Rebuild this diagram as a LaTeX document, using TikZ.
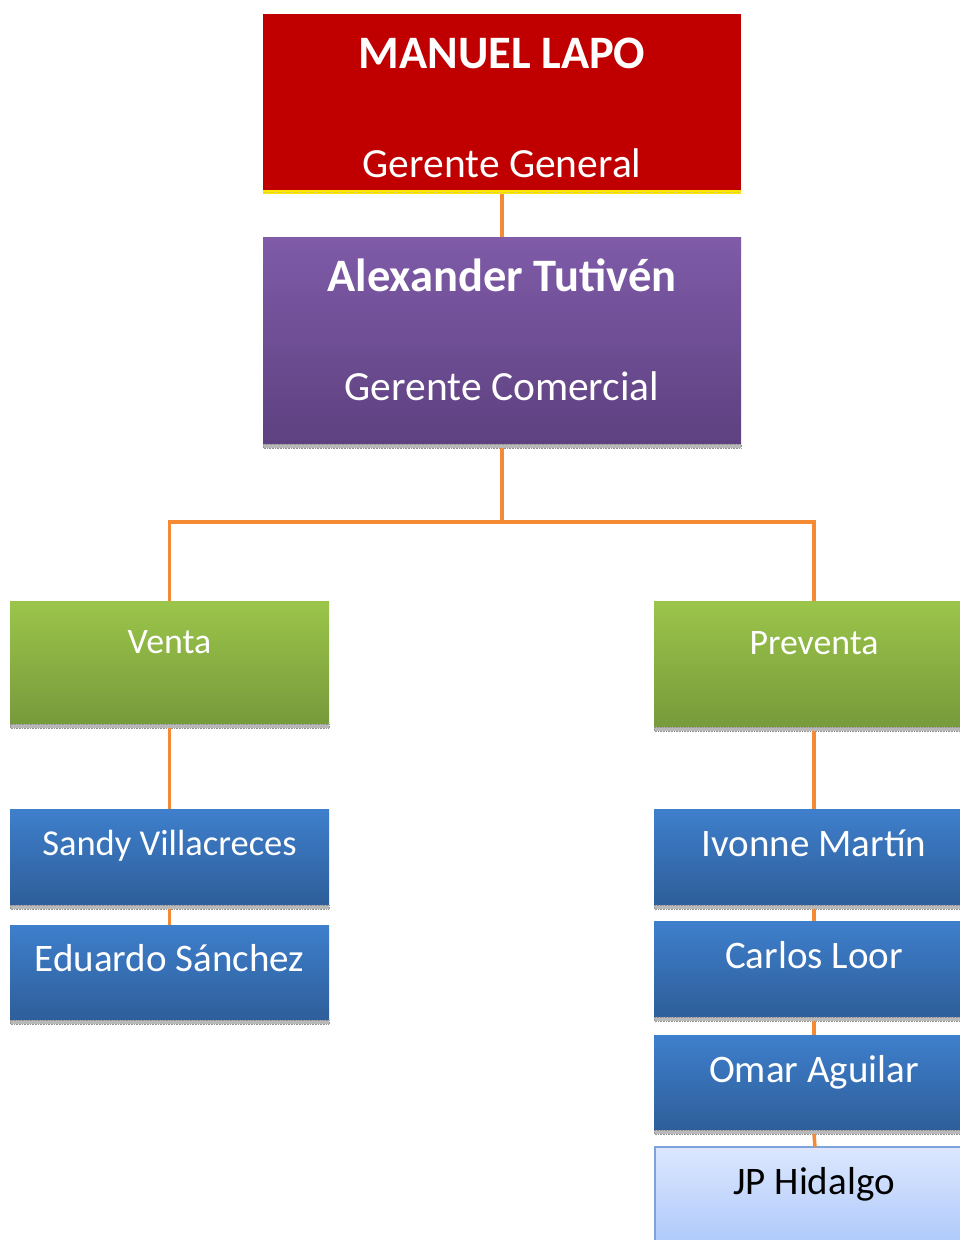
\documentclass[tikz,border=0pt]{standalone}
\usepackage{fontspec}
\setmainfont{Carlito}
\definecolor{gred}{HTML}{C00000}
\definecolor{purtop}{HTML}{7F5BA8}
\definecolor{purbot}{HTML}{5D4180}
\definecolor{grntop}{HTML}{9BC54A}
\definecolor{grnbot}{HTML}{779A3B}
\definecolor{blutop}{HTML}{3E7FCC}
\definecolor{blubot}{HTML}{2E5E9A}
\definecolor{lbtop}{HTML}{DCE7FE}
\definecolor{lbbot}{HTML}{A8C5FA}
\definecolor{lbline}{HTML}{7DA3DD}
\definecolor{conncol}{HTML}{F58A35}
\begin{document}
\begin{tikzpicture}[x=1pt,y=-1pt,
  box/.style={rectangle,inner sep=0pt,outer sep=0pt,anchor=north west,draw=none},
  redbox/.style={box,fill=gred},
  purbox/.style={box,top color=purtop,bottom color=purbot},
  grnbox/.style={box,top color=grntop,bottom color=grnbot},
  blubox/.style={box,top color=blutop,bottom color=blubot},
  lbbox/.style={box,top color=lbtop,bottom color=lbbot,draw=lbline,line width=1.2pt},
  shadowstrip/.style={fill=gray!55,draw=gray!85,densely dotted,line width=0.6pt},
  conn/.style={draw=conncol,line width=3.5pt},
  ttl/.style={anchor=base,text=white,font=\fontsize{46.5}{52}\selectfont\bfseries},
  sub/.style={anchor=base,text=white,font=\fontsize{41.5}{48}\selectfont},
  grp/.style={anchor=base,text=white,font=\fontsize{35.8}{42}\selectfont},
  per/.style={anchor=base,text=white,font=\fontsize{39}{45}\selectfont},
  perdark/.style={anchor=base,text=black,font=\fontsize{39}{45}\selectfont}
]
\useasboundingbox[fill=white] (0,0) rectangle (959,1240);

\coordinate (split) at (502,522);

% general manager
\node[redbox,minimum width=478pt,minimum height=176pt] (gg) at (263,14) {};
\fill[yellow!90!orange] (263,190) rectangle (741,194);
\draw[yellow!60!gray,densely dotted,line width=0.6pt] (263,192) -- (741,192);
\node[ttl] (ggname) at (502,68) {MANUEL LAPO};
\node[sub] (ggrole) at (502,177) {Gerente General};

% commercial manager
\node[purbox,minimum width=478pt,minimum height=207pt] (gc) at (263,237) {};
\draw[shadowstrip] (263,444) rectangle (741,448);
\node[ttl] (gcname) at (502,291) {Alexander Tutivén};
\node[sub] (gcrole) at (502,400) {Gerente Comercial};

% departments
\node[grnbox,minimum width=319pt,minimum height=123pt] (venta) at (10,601) {};
\draw[shadowstrip] (10,724) rectangle (329,728);
\node[grp] (ventat) at (169.5,653) {Venta};

\node[grnbox,minimum width=320pt,minimum height=126pt] (preventa) at (654,601) {};
\draw[shadowstrip] (654,727) rectangle (974,731);
\node[grp] (preventat) at (814,654) {Preventa};

% sales staff
\node[blubox,minimum width=319pt,minimum height=96pt] (sandy) at (10,809) {};
\draw[shadowstrip] (10,905) rectangle (329,909);
\node[per,font=\fontsize{36.5}{42}\selectfont] (sandyt) at (169.5,855) {Sandy Villacreces};

\node[blubox,minimum width=319pt,minimum height=95pt] (eduardo) at (10,925) {};
\draw[shadowstrip] (10,1020) rectangle (329,1024);
\node[per] (eduardot) at (169.5,971) {Eduardo Sánchez};

% presales staff
\node[blubox,minimum width=320pt,minimum height=96pt] (ivonne) at (654,809) {};
\draw[shadowstrip] (654,905) rectangle (974,909);
\node[per] (ivonnet) at (814,856) {Ivonne Martín};

\node[blubox,minimum width=320pt,minimum height=96pt] (carlos) at (654,921) {};
\draw[shadowstrip] (654,1017) rectangle (974,1021);
\node[per] (carlost) at (814,968) {Carlos Loor};

\node[blubox,minimum width=320pt,minimum height=95pt] (omar) at (654,1035) {};
\draw[shadowstrip] (654,1130) rectangle (974,1134);
\node[per] (omart) at (814,1082) {Omar Aguilar};

\node[lbbox,minimum width=320pt,minimum height=110pt] (jp) at (655,1147) {};
\node[perdark] (jpt) at (814,1194) {JP Hidalgo};

% connectors
\draw[conn] (502,194) -- (gc.north);
\draw[conn] (502,448) -- (split);
\draw[conn] (split) -| (venta.north);
\draw[conn] (split) -| (preventa.north);
\draw[conn] (169.5,728) -- (sandy.north);
\draw[conn] (169.5,909) -- (eduardo.north);
\draw[conn] (814,731) -- (ivonne.north);
\draw[conn] (814,909) -- (carlos.north);
\draw[conn] (814,1021) -- (omar.north);
\draw[conn] (814,1134) -- (jp.north);
\end{tikzpicture}
\end{document}
